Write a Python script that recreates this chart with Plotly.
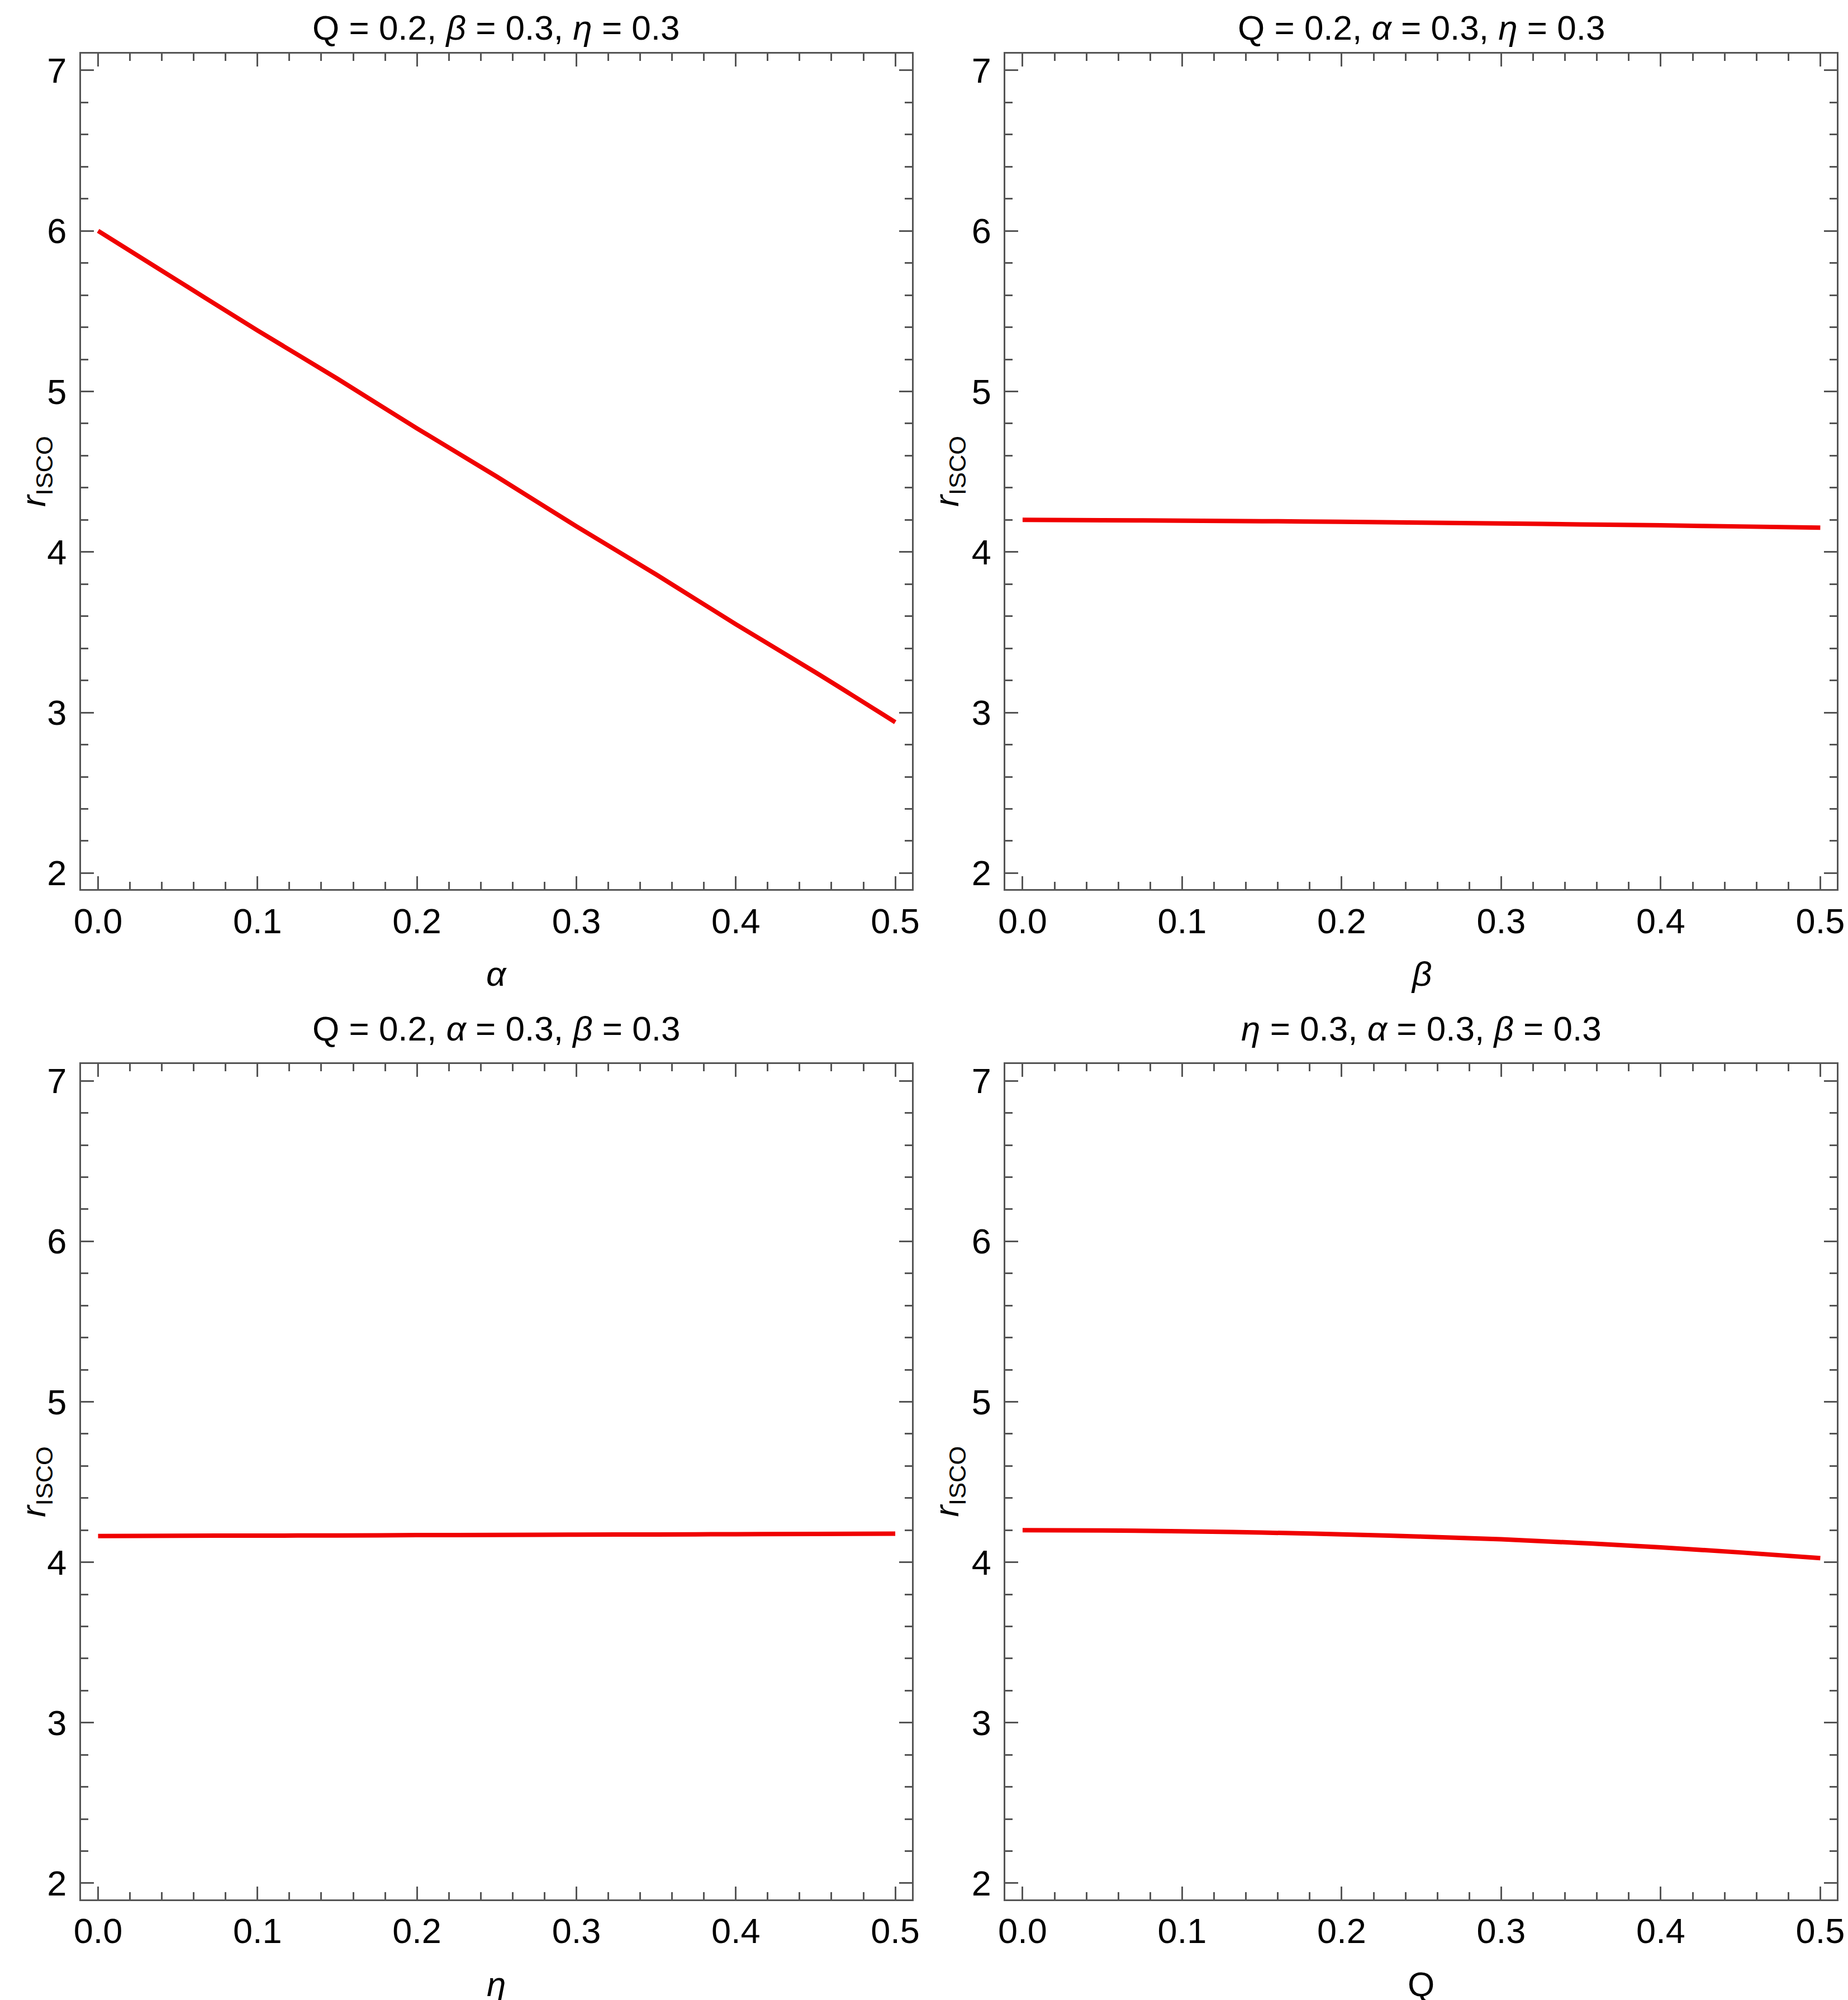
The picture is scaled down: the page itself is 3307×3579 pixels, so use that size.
import plotly.graph_objects as go
from plotly.subplots import make_subplots

# 数据
x_vals = [0.0, 0.05, 0.1, 0.15, 0.2, 0.25, 0.3, 0.35, 0.4, 0.45, 0.5]

r_alpha = [6.00, 5.69, 5.38, 5.08, 4.77, 4.47, 4.16, 3.86, 3.55, 3.25, 2.94]
r_beta = [4.200, 4.198, 4.195, 4.192, 4.188, 4.183, 4.178, 4.172, 4.166, 4.159, 4.152]
r_eta = [4.163, 4.165, 4.166, 4.167, 4.169, 4.170, 4.172, 4.173, 4.175, 4.176, 4.178]
r_Q = [4.200, 4.198, 4.193, 4.185, 4.174, 4.160, 4.143, 4.120, 4.093, 4.061, 4.026]

series = [r_alpha, r_beta, r_eta, r_Q]

titles = [
    "Q = 0.2, <i>β</i> = 0.3, <i>η</i> = 0.3",
    "Q = 0.2, <i>α</i> = 0.3, <i>η</i> = 0.3",
    "Q = 0.2, <i>α</i> = 0.3, <i>β</i> = 0.3",
    "<i>η</i> = 0.3, <i>α</i> = 0.3, <i>β</i> = 0.3",
]
x_labels = ["<i>α</i>", "<i>β</i>", "<i>η</i>", "Q"]
y_label = "<i>r</i><sub>ISCO</sub>"

W, H = 3307, 3579
FONT = "Liberation Sans, Arial, sans-serif"
FRAME = "#555555"
FS = 62

# 像素位置 -> paper 坐标
col_px = [(125, 1624), (1793, 3293)]
row_px = [(83, 1583), (1897, 3396)]
ylab_px = [44, 1691]


def px_x(p):
    return p / W


def px_y(p):
    return 1 - p / H


fig = make_subplots(rows=2, cols=2)

annotations = []
for i, ys in enumerate(series):
    row, col = i // 2 + 1, i % 2 + 1
    (x0, x1), (y0, y1) = col_px[col - 1], row_px[row - 1]

    fig.add_trace(go.Scatter(
        x=x_vals, y=ys, mode="lines", line_shape="spline",
        line=dict(color="rgb(240,0,0)", width=8),
        showlegend=False, hoverinfo="skip"
    ), row=row, col=col)

    fig.update_xaxes(
        domain=[px_x(x0), px_x(x1)], range=[-0.0107, 0.5104],
        dtick=0.1, tick0=0, tickformat=".1f",
        ticks="inside", ticklen=23, tickwidth=2.5, tickcolor=FRAME,
        minor=dict(dtick=0.02, tick0=0, ticks="inside", ticklen=13,
                   tickwidth=2.5, tickcolor=FRAME),
        showline=True, linecolor=FRAME, linewidth=3, mirror="ticks",
        showgrid=False, zeroline=False,
        tickfont=dict(family=FONT, size=63, color="black"),
        ticklabelstandoff=0,
        row=row, col=col)
    fig.update_yaxes(
        domain=[px_y(y1), px_y(y0)], range=[1.9, 7.105],
        dtick=1, tick0=0,
        ticks="inside", ticklen=23, tickwidth=2.5, tickcolor=FRAME,
        minor=dict(dtick=0.2, tick0=0, ticks="inside", ticklen=13,
                   tickwidth=2.5, tickcolor=FRAME),
        showline=True, linecolor=FRAME, linewidth=3, mirror="ticks",
        showgrid=False, zeroline=False,
        tickfont=dict(family=FONT, size=63, color="black"),
        ticklabelstandoff=10,
        row=row, col=col)

    xc = px_x((x0 + x1) / 2)
    # 标题
    if row == 1:
        annotations.append(dict(
            text=titles[i], x=xc, y=1.0,
            xref="paper", yref="paper", showarrow=False,
            xanchor="center", yanchor="top",
            font=dict(family=FONT, size=FS, color="black")))
    else:
        annotations.append(dict(
            text=titles[i], x=xc, y=px_y(1833),
            xref="paper", yref="paper", showarrow=False,
            xanchor="center", yanchor="middle",
            font=dict(family=FONT, size=FS, color="black")))
    # x 轴标签
    annotations.append(dict(
        text=x_labels[i], x=xc, y=px_y(y1 + 152),
        xref="paper", yref="paper", showarrow=False,
        xanchor="center", yanchor="middle",
        font=dict(family=FONT, size=FS, color="black")))
    # y 轴标签
    annotations.append(dict(
        text=y_label, x=px_x(ylab_px[col - 1]), y=px_y((y0 + y1) / 2),
        xref="paper", yref="paper", showarrow=False, textangle=-90,
        xanchor="center", yanchor="middle",
        font=dict(family=FONT, size=FS, color="black")))

fig.update_layout(
    width=W, height=H,
    margin=dict(l=0, r=0, t=0, b=0),
    paper_bgcolor="white", plot_bgcolor="white",
    annotations=annotations,
)

fig.write_html("out.html")
